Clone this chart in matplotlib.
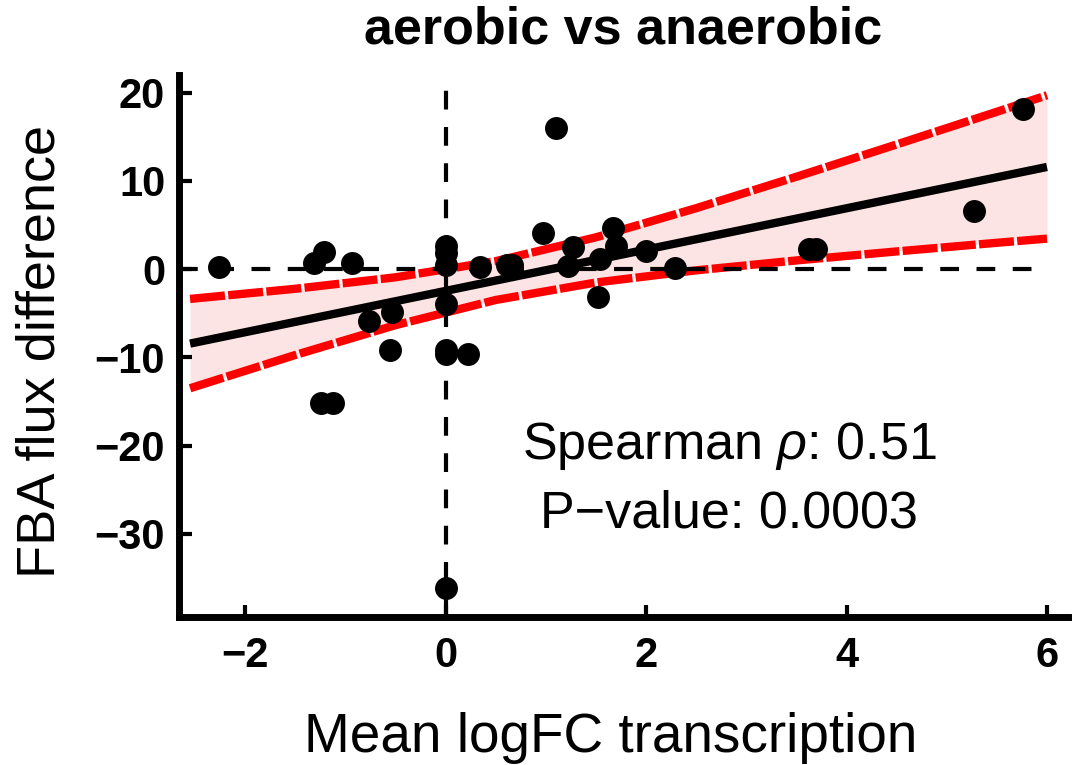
import matplotlib
matplotlib.use('Agg')
import matplotlib.pyplot as plt

plt.rcParams['font.family'] = ['Liberation Sans', 'DejaVu Sans']
plt.rcParams['mathtext.fontset'] = 'custom'
plt.rcParams['mathtext.rm'] = 'Liberation Sans'
plt.rcParams['mathtext.it'] = 'Liberation Sans:italic'

# === данные ===
logfc = [-2.26, -1.31, -1.21, -0.93, -0.76, -0.54, -0.56, -1.24, -1.12,
         0.0, 0.0, 0.0, 0.0, 0.0, 0.0, 0.0,
         0.22, 0.34, 0.61, 0.66, 0.97, 1.10, 1.22, 1.27, 1.54, 1.52,
         1.67, 1.70, 2.00, 2.29, 3.63, 3.70, 5.27, 5.76]
flux = [0.3, 0.7, 2.0, 0.7, -5.9, -4.9, -9.1, -15.2, -15.2,
        2.6, 1.8, 0.5, -3.9, -9.1, -9.6, -36.1,
        -9.6, 0.2, 0.5, 0.5, 4.1, 16.0, 0.4, 2.5, 1.2, -3.2,
        4.7, 2.6, 2.1, 0.1, 2.3, 2.3, 6.6, 18.1]

# линейная регрессия и доверительная полоса
band_x = [-2.55, -1.5, -0.5, 0.5, 1.5, 2.5, 3.5, 4.5, 5.5, 6.0]
fit_y = [-8.43, -5.97, -3.63, -1.29, 1.05, 3.39, 5.73, 8.07, 10.41, 11.58]
upper_y = [-3.37, -2.22, -0.92, 0.91, 3.61, 6.91, 10.47, 14.13, 17.83, 19.70]
lower_y = [-13.49, -9.72, -6.34, -3.49, -1.51, -0.13, 0.99, 2.01, 2.99, 3.46]

x_ticks = [-2, 0, 2, 4, 6]
y_ticks = [-30, -20, -10, 0, 10, 20]

title = 'aerobic vs anaerobic'
stats_text = 'Spearman $\\it{\\rho}$: 0.51\nP\u2212value: 0.0003'

# === график ===
fig = plt.figure(figsize=(10.76, 7.65), dpi=100)
ax = fig.add_axes([0.1664, 0.1935, 0.8262, 0.7085])

ax.fill_between(band_x, lower_y, upper_y, color='#fde4e4', lw=0, zorder=1)
ax.plot(band_x, upper_y, color='red', lw=6, dashes=(4.2, 0.4),
        solid_capstyle='butt', dash_capstyle='butt', zorder=2)
ax.plot(band_x, lower_y, color='red', lw=6, dashes=(4.2, 0.4),
        solid_capstyle='butt', dash_capstyle='butt', zorder=2)

ax.axvline(0, color='black', lw=3, dashes=(4.5, 4.2), zorder=3)
ax.hlines(0, -2.66, 6.0, color='black', lw=3, linestyles=(0, (4.5, 4.2)), zorder=3)

ax.plot(band_x, fit_y, color='black', lw=6, solid_capstyle='butt', zorder=4)
ax.plot(logfc, flux, 'o', color='black', markersize=15.5, zorder=5)

ax.set_xlim(-2.66, 6.21)
ax.set_ylim(-39.4, 22.0)
ax.set_xticks(x_ticks)
ax.set_yticks(y_ticks)

for side in ['top', 'right']:
    ax.spines[side].set_visible(False)
for side in ['left', 'bottom']:
    ax.spines[side].set_linewidth(5)

ax.tick_params(direction='in', length=9, width=3, labelsize=30)
ax.tick_params(axis='x', pad=14)
ax.tick_params(axis='y', pad=10)
for lab in ax.get_xticklabels() + ax.get_yticklabels():
    lab.set_fontweight('bold')

ax.set_xlabel('Mean logFC transcription', fontsize=39.5)
ax.xaxis.set_label_coords(0.485, -0.175)
ax.set_ylabel('FBA flux difference', fontsize=39)
ax.yaxis.set_label_coords(-0.128, 0.49)
ax.set_title(title, fontsize=37.5, fontweight='bold', pad=23)

ax.text(2.83, -23.8, stats_text, fontsize=37.5, ha='center', va='center',
        linespacing=1.45)

fig.savefig('out.png', dpi=100)
